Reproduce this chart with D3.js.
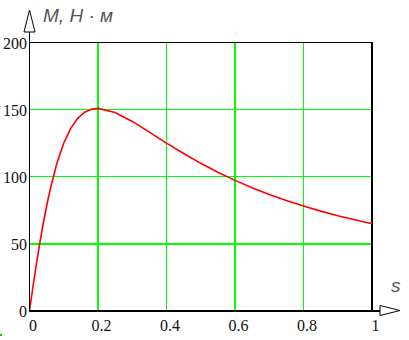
<!DOCTYPE html>
<html><head><meta charset="utf-8">
<script src="https://cdn.jsdelivr.net/npm/d3@7"></script>
<style>
html,body{margin:0;padding:0;background:#fff;}
svg{display:block;}
.tick text{font-family:"Liberation Serif","Times New Roman",serif !important;font-size:16px !important;}
</style></head>
<body>
<svg id="chart" width="409" height="340"></svg>
<script>
// Data (slip s, torque M in N·m)
const slip   = [0, 0.01, 0.02, 0.03, 0.04, 0.05, 0.06, 0.08, 0.10, 0.12, 0.14, 0.16, 0.18, 0.20, 0.25, 0.30, 0.35, 0.40, 0.45, 0.50, 0.55, 0.60, 0.65, 0.70, 0.75, 0.80, 0.85, 0.90, 0.95, 1.00];
const torque = [0, 17.8, 34.7, 50.5, 65.0, 78.2, 90.1, 110.0, 125.1, 135.9, 143.3, 147.9, 150.2, 150.9, 147.9, 141.2, 133.2, 125.1, 117.3, 110.0, 103.3, 97.3, 91.8, 86.8, 82.3, 78.2, 74.4, 71.0, 67.9, 65.0];
const xTicks = [0, 0.2, 0.4, 0.6, 0.8, 1];
const xTickLabels = ["0", "0.2", "0.4", "0.6", "0.8", "1"];
const yTicks = [0, 50, 100, 150, 200];
const yTickLabels = ["0", "50", "100", "150", "200"];
const xGrid = [0.2, 0.4, 0.6, 0.8];
const yGrid = [50, 100, 150];
const yTitle = "M, H · м";
const xTitle = "s";

const svg = d3.select("#chart");
const x = d3.scaleLinear().domain([0, 1]).range([29.5, 372]);
const y = d3.scaleLinear().domain([0, 200]).range([311, 42.5]);

const thickX = new Set([0.2, 0.6]);
const thickY = new Set([50]);
const px1 = v => Math.floor(v) + 0.5;
const serif = "'Liberation Serif','Times New Roman',serif";

// grid
svg.append("g").selectAll("line").data(xGrid).join("line")
  .attr("x1", d => thickX.has(d) ? Math.round(x(d)) : px1(x(d)))
  .attr("x2", d => thickX.has(d) ? Math.round(x(d)) : px1(x(d)))
  .attr("y1", y(200)).attr("y2", y(0))
  .attr("stroke", "#00ff00").attr("stroke-width", d => thickX.has(d) ? 2 : 1);
svg.append("g").selectAll("line").data(yGrid).join("line")
  .attr("y1", d => thickY.has(d) ? Math.round(y(d)) : px1(y(d)))
  .attr("y2", d => thickY.has(d) ? Math.round(y(d)) : px1(y(d)))
  .attr("x1", x(0)).attr("x2", x(1))
  .attr("stroke", "#00ff00").attr("stroke-width", d => thickY.has(d) ? 2 : 1);

// frame
svg.append("line").attr("x1", x(0)).attr("x2", x(1)).attr("y1", y(200)).attr("y2", y(200))
  .attr("stroke", "#000").attr("stroke-width", 1);
svg.append("line").attr("x1", x(1)).attr("x2", x(1)).attr("y1", y(200)-0.5).attr("y2", y(0))
  .attr("stroke", "#000").attr("stroke-width", 2);

// curve
const line = d3.line().x((d, i) => x(slip[i])).y(d => y(d));
svg.append("path").datum(torque).attr("d", line)
  .attr("fill", "none").attr("stroke", "#ff0000").attr("stroke-width", 1.6);

// axes lines
svg.append("line").attr("x1", x(0)).attr("x2", x(0)).attr("y1", 32).attr("y2", y(0)+1)
  .attr("stroke", "#000").attr("stroke-width", 1);
svg.append("line").attr("x1", x(0)).attr("x2", 380).attr("y1", y(0)).attr("y2", y(0))
  .attr("stroke", "#000").attr("stroke-width", 2);
// arrows
svg.append("path").attr("d", `M${x(0)},10 L${x(0)+5.5},32 L${x(0)-5.5},32 Z`)
  .attr("fill", "#fff").attr("stroke", "#000").attr("stroke-width", 1);
svg.append("path").attr("d", `M380,305.5 L400,310.5 L380,315.5 Z`)
  .attr("fill", "#fff").attr("stroke", "#000").attr("stroke-width", 1);

// tick labels via axes
const ax = d3.axisBottom(x).tickValues(xTicks).tickSize(0).tickPadding(0)
  .tickFormat((d, i) => xTickLabels[i]);
const gx = svg.append("g").attr("transform", "translate(3,0)").call(ax)
  .attr("font-family", serif).attr("font-size", 16);
gx.select(".domain").remove();
gx.selectAll("text").attr("y", 331).attr("dy", null).attr("fill", "#111");

const ay = d3.axisLeft(y).tickValues(yTicks).tickSize(0).tickPadding(0)
  .tickFormat((d, i) => yTickLabels[i]);
const gy = svg.append("g").attr("transform", "translate(27,0)").call(ay)
  .attr("font-family", serif).attr("font-size", 16);
gy.select(".domain").remove();
gy.selectAll("text").attr("dy", "0.35em").attr("fill", "#111");

// titles
svg.append("text").attr("x", 43).attr("y", 22).text(yTitle)
  .style("font-family", "'Liberation Sans',Arial,sans-serif").style("font-style", "italic")
  .style("font-size", "19px").attr("fill", "#555");
svg.append("text").attr("x", 391).attr("y", 292).text(xTitle)
  .style("font-family", "'Liberation Sans',Arial,sans-serif").style("font-style", "italic")
  .style("font-size", "19px").attr("fill", "#555");

// small green mark bottom-left
svg.append("rect").attr("x", 0).attr("y", 334).attr("width", 2).attr("height", 2).attr("fill", "#00cc00");
</script>
</body></html>
